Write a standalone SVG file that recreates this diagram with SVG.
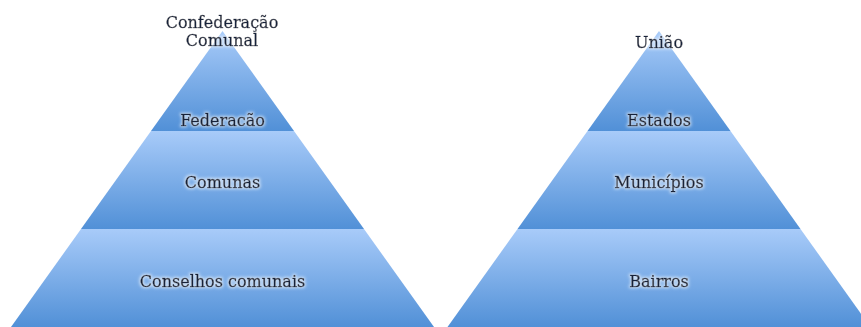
<svg xmlns="http://www.w3.org/2000/svg" width="861" height="327" viewBox="0 0 861 327">
  <defs>
    <linearGradient id="band" x1="0" y1="0" x2="0" y2="1">
      <stop offset="0" stop-color="#a8cbf9"/>
      <stop offset="1" stop-color="#5190d7"/>
    </linearGradient>
    <filter id="glow" x="-20%" y="-40%" width="140%" height="180%">
      <feMorphology in="SourceAlpha" operator="dilate" radius="1" result="d"/>
      <feGaussianBlur in="d" stdDeviation="1.5" result="b"/>
      <feFlood flood-color="#ffffff" flood-opacity="0.6"/>
      <feComposite in2="b" operator="in" result="g"/>
      <feMerge>
        <feMergeNode in="g"/>
        <feMergeNode in="SourceGraphic"/>
      </feMerge>
    </filter>
  </defs>
  <style>
    .band { fill: url(#band); }
    .lbl { font-family: "DejaVu Serif", "Liberation Serif", serif; font-size: 16px; fill: #17233b; stroke: #17233b; stroke-width: 0.45px; text-anchor: middle; filter: url(#glow); }
  </style>
  <rect width="861" height="327" fill="#ffffff"/>

  <!-- Left pyramid -->
  <g id="federacao">
    <polygon class="band" points="222.5,31 294,131 151,131"/>
    <text class="lbl" x="222.5" y="126">Federacão</text>
  </g>
  <g id="comunas">
    <polygon class="band" points="151,131 294,131 364,229 81,229"/>
    <text class="lbl" x="222.5" y="188">Comunas</text>
  </g>
  <g id="conselhos-comunais">
    <polygon class="band" points="81,229 364,229 434,327 11,327"/>
    <text class="lbl" x="222.5" y="287">Conselhos comunais</text>
  </g>
  <g id="confederacao-comunal">
    <text class="lbl" x="222" y="28">Confederação</text>
    <text class="lbl" x="222" y="46">Comunal</text>
  </g>

  <!-- Right pyramid -->
  <g id="estados">
    <polygon class="band" points="659,31 730.5,131 587.5,131"/>
    <text class="lbl" x="659" y="126">Estados</text>
  </g>
  <g id="municipios">
    <polygon class="band" points="587.5,131 730.5,131 800.5,229 517.5,229"/>
    <text class="lbl" x="659" y="188">Municípios</text>
  </g>
  <g id="bairros">
    <polygon class="band" points="517.5,229 800.5,229 870.5,327 447.5,327"/>
    <text class="lbl" x="659" y="287">Bairros</text>
  </g>
  <g id="uniao">
    <text class="lbl" x="659" y="48">União</text>
  </g>
</svg>
